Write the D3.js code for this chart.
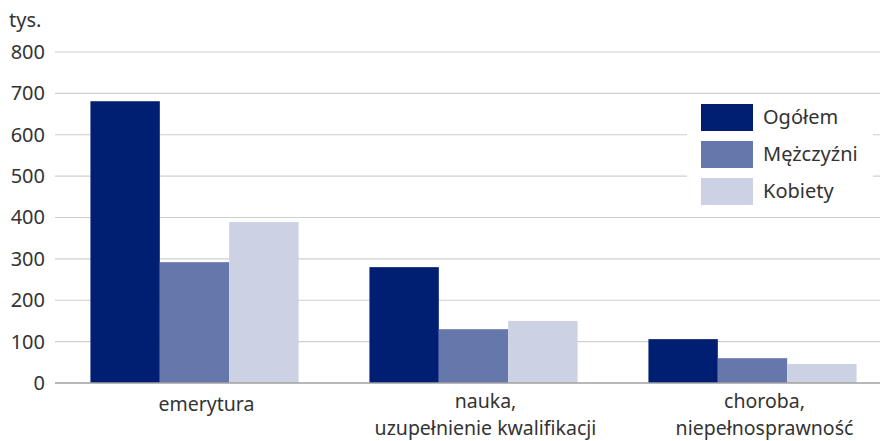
<!DOCTYPE html>
<html><head><meta charset="utf-8">
<script src="https://cdn.jsdelivr.net/npm/d3@7"></script>
<style>body{margin:0;background:#fff;} text{font-family:"Noto Sans","Open Sans",sans-serif;fill:#333;}</style>
</head><body><svg id="c" width="880" height="441"></svg>
<script>
const categories = [["emerytura"], ["nauka,", "uzupełnienie kwalifikacji"], ["choroba,", "niepełnosprawność"]];
const seriesNames = ["Ogółem", "Mężczyźni", "Kobiety"];
const ogolem = [681, 280, 106];
const mezczyzni = [292, 130, 60];
const kobiety = [389, 150, 46];
const yTicks = [0, 100, 200, 300, 400, 500, 600, 700, 800];
const colors = ["#001f73", "#6677ab", "#ccd2e4"];

(function(){
const FS = 20;
const series = [ogolem, mezczyzni, kobiety];
const svg = d3.select("#c");
const mLeft = 55, mRight = 892, mTop = 52, mBottom = 383;
const x0 = d3.scaleBand().domain(d3.range(categories.length)).range([mLeft, mRight]).paddingInner(0.254).paddingOuter(0.127);
const x1 = d3.scaleBand().domain(d3.range(series.length)).range([0, x0.bandwidth()]);
const y = d3.scaleLinear().domain([0, 800]).range([mBottom, mTop]);

svg.append("g").selectAll("line").data(yTicks.filter(d => d > 0)).join("line")
  .attr("x1", mLeft).attr("x2", 880).attr("y1", d => y(d)).attr("y2", d => y(d))
  .attr("stroke", "#cfcfcf").attr("stroke-width", 1.2);

const yAxis = d3.axisLeft(y).tickValues(yTicks).tickSize(0).tickPadding(0);
const ga = svg.append("g").attr("transform", `translate(45,0)`).call(yAxis);
ga.select(".domain").remove();
ga.selectAll("text").attr("font-size", FS).attr("fill", "#333").style("font-family", '"Noto Sans","Open Sans",sans-serif');

svg.append("text").attr("x", 9).attr("y", 27).attr("font-size", FS).text("tys.");

const g = svg.append("g");
categories.forEach((c, i) => {
  series.forEach((s, j) => {
    g.append("rect")
      .attr("x", x0(i) + x1(j)).attr("width", x1.bandwidth())
      .attr("y", y(s[i])).attr("height", y(0) - y(s[i]))
      .attr("fill", colors[j]);
  });
});

svg.append("line").attr("x1", mLeft).attr("x2", 880).attr("y1", y(0)).attr("y2", y(0))
  .attr("stroke", "#a0a0a0").attr("stroke-width", 1.5);

categories.forEach((c, i) => {
  const cx = x0(i) + x0.bandwidth() / 2 + 12;
  const t = svg.append("text").attr("text-anchor", "middle").attr("font-size", 19.5);
  c.forEach((line, k) => {
    t.append("tspan").attr("x", cx).attr("y", (c.length > 1 ? 408 : 411) + k * 27).text(line);
  });
});

const lg = svg.append("g");
lg.append("rect").attr("x", 687).attr("y", 96).attr("width", 186).attr("height", 120).attr("fill", "#fff");
seriesNames.forEach((n, j) => {
  const yy = 104 + j * 37;
  lg.append("rect").attr("x", 701).attr("y", yy).attr("width", 52).attr("height", 27).attr("fill", colors[j]);
  lg.append("text").attr("x", 763).attr("y", yy + 20).attr("font-size", FS).text(n);
});
})();
</script></body></html>
